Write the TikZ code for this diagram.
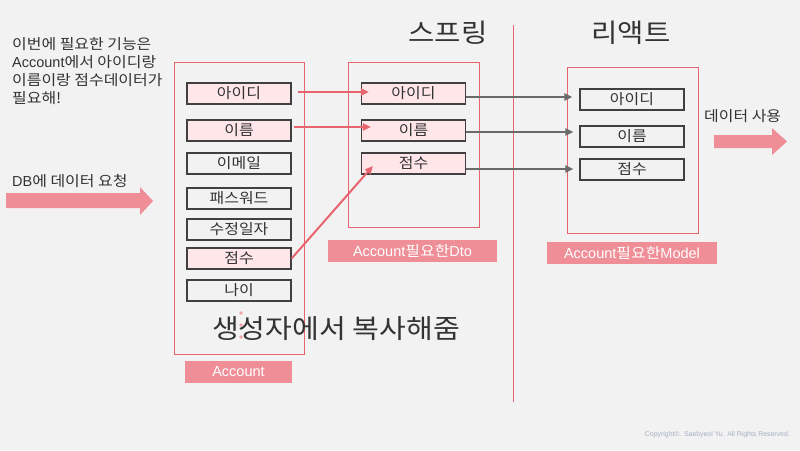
\documentclass[tikz,border=0pt]{standalone}
\usepackage{fontspec}
\setmainfont[FakeStretch=1.1]{Noto Sans CJK KR}
\newfontfamily\lat{Liberation Sans}
\usetikzlibrary{arrows.meta,calc}
\definecolor{bg}{HTML}{F2F2F2}
\definecolor{redline}{HTML}{E8646E}
\definecolor{pinkfill}{HTML}{FFE6E9}
\definecolor{labelfill}{HTML}{EF8E96}
\definecolor{boxline}{HTML}{404040}
\definecolor{txt}{HTML}{333333}
\definecolor{grayarrow}{HTML}{6A6A6A}
\definecolor{copy}{HTML}{A6AEC4}
\definecolor{dotpink}{HTML}{F0A0A8}
\tikzset{
  field/.style={draw=boxline, line width=1.2pt, minimum width=104pt, minimum height=21pt, inner sep=0pt, font=\fontsize{14.5}{16}\selectfont, text=txt},
  hot/.style={field, fill=pinkfill},
  group/.style={draw=redline, line width=1pt},
  tag/.style={fill=labelfill, text=white, inner sep=0pt, minimum height=22pt, font=\fontsize{14.5}{16}\selectfont},
  redarr/.style={draw=redline, line width=2pt, -{Triangle[length=8pt,width=7pt]}},
  grayarr/.style={draw=grayarrow, line width=2pt, -{Triangle[length=8pt,width=7pt]}},
  bigarrow/.style={fill=labelfill, draw=none},
  title/.style={font=\fontsize{26}{30}\selectfont, text=txt},
  note/.style={font=\fontsize{14.5}{18}\selectfont, text=txt, inner sep=0pt, align=left}
}
\begin{document}
\begin{tikzpicture}[x=1pt,y=-1pt]
\useasboundingbox (0,0) rectangle (800,450);
\fill[bg] (0,0) rectangle (800,450);

% top-left note
\node[note, anchor=north west] (intro) at (12,37) {이번에 필요한 기능은\\{\lat Account}에서 아이디랑\\이름이랑 점수데이터가\\필요해!};

% DB request
\node[note, anchor=west] (dbreq) at (12,181) {{\lat DB}에 데이터 요청};
\fill[bigarrow] (6,193) -- (140,193) -- (140,187) -- (153,201) -- (140,215) -- (140,208) -- (6,208) -- cycle;

% Account group
\node[group, minimum width=130pt, minimum height=292pt, inner sep=0pt] (accbox) at (239.5,208) {};
\node[hot]   (a1) at (239,93.5)  {아이디};
\node[hot]   (a2) at (239,130.5) {이름};
\node[field] (a3) at (239,163.5) {이메일};
\node[field] (a4) at (239,198.5) {패스워드};
\node[field] (a5) at (239,229.5) {수정일자};
\node[hot]   (a6) at (239,258.5) {점수};
\node[field] (a7) at (239,290.5) {나이};
\node[tag, minimum width=107pt] (acctag) at (238.5,372) {\lat Account};

% big caption
\node[font=\fontsize{26.5}{30}\selectfont, text=txt] (copytext) at (336,329) {생성자에서 복사해줌};
\fill[dotpink] (241,313) circle (1.8pt) (241,325) circle (1.8pt) (241,337) circle (1.8pt);

% Spring
\node[title] (spring) at (448,33) {스프링};
\node[group, minimum width=131pt, minimum height=165pt, inner sep=0pt] (dtobox) at (413.5,144.5) {};
\node[hot] (d1) at (413.5,93.5)  {아이디};
\node[hot] (d2) at (413.5,130.5) {이름};
\node[hot] (d3) at (413.5,163.5) {점수};
\node[tag, minimum width=169pt] (dtotag) at (412.5,251) {{\lat Account}필요한{\lat Dto}};

% divider
\coordinate (divtop) at (513,25);
\coordinate (divbot) at (513,402);
\draw[redline, line width=1pt] (divtop) -- (divbot);

% React
\node[title] (react) at (631,33) {리액트};
\node[group, minimum width=131pt, minimum height=166pt, inner sep=0pt] (modelbox) at (632.5,150) {};
\node[field] (m1) at (632,99.5)  {아이디};
\node[field] (m2) at (632,136.5) {이름};
\node[field] (m3) at (632,169.5) {점수};
\node[tag, minimum width=170pt] (modeltag) at (632,253) {{\lat Account}필요한{\lat Model}};

% use data
\node[note, anchor=west] (use) at (704,116) {데이터 사용};
\fill[bigarrow] (714,135) -- (772,135) -- (772,128) -- (787,141.5) -- (772,155) -- (772,148) -- (714,148) -- cycle;

% red arrows
\draw[redarr] ([xshift=6pt,yshift=1.5pt]a1.east) -- ([xshift=8pt,yshift=1.5pt]d1.west);
\draw[redarr] ([xshift=2pt,yshift=3.5pt]a2.east) -- ([xshift=10pt,yshift=3.5pt]d2.west);
\draw[redarr] (a6.east) -- ([xshift=12pt,yshift=-2.5pt]d3.west);

% gray arrows
\draw[grayarr] ([yshift=-3.5pt]d1.east) -- ([xshift=-7pt,yshift=2.5pt]m1.west);
\draw[grayarr] ([yshift=-1.5pt]d2.east) -- ([xshift=-6pt,yshift=4.5pt]m2.west);
\draw[grayarr] ([yshift=-5.5pt]d3.east) -- ([xshift=-6pt,yshift=0.5pt]m3.west);

% copyright
\node[anchor=east, font=\lat\fontsize{6.9}{8}\selectfont, text=copy, inner sep=0pt] (cr) at (790,435) {Copyright©. Saebyeol Yu. All Rights Reserved.};
\end{tikzpicture}
\end{document}
